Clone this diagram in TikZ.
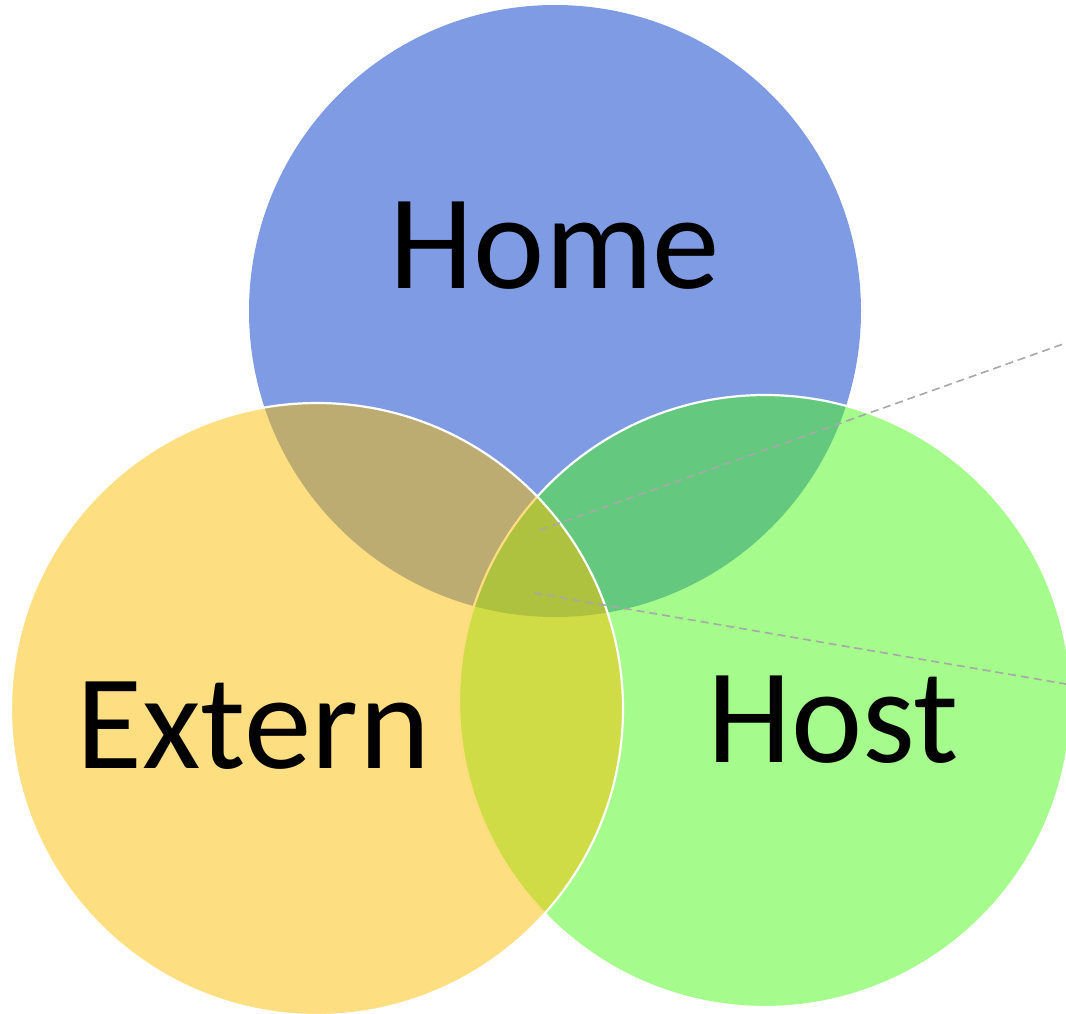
\documentclass[tikz,border=0pt]{standalone}
\usepackage{fontspec}
\setmainfont{Carlito}
\definecolor{homeblue}{RGB}{127,155,228}
\definecolor{hostgreen}{RGB}{75,247,25}
\definecolor{externgold}{RGB}{251,189,1}
\definecolor{guidegray}{RGB}{168,168,168}
\begin{document}
\begin{tikzpicture}[x=1pt,y=-1pt,
  setdisc/.style={circle, inner sep=0pt, outer sep=0pt, minimum size=612pt},
  glassdisc/.style={setdisc, fill opacity=0.5, draw=white, draw opacity=1, line width=2.2pt},
  setlabel/.style={anchor=base, inner sep=0pt, font=\fontsize{135}{160}\selectfont},
  guide/.style={draw=guidegray, line width=1.6pt, dash pattern=on 8pt off 5pt}]
\useasboundingbox (0,0) rectangle (1066,1013);
\clip (0,0) rectangle (1066,1013);

% the three sets, drawn bottom to top
\node[setdisc, fill=homeblue] (home) at (555,311) {};
\node[glassdisc, fill=hostgreen] (host) at (765,701) {};
\node[glassdisc, fill=externgold] (extern) at (317,709) {};

% set names
\node[setlabel] (homelabel) at (555,288) {Home};
\node[setlabel] (externlabel) at (253,768) {Extern};
\node[setlabel] (hostlabel) at (833,762) {Host};

% dashed guide lines out of the common region
\coordinate (guideAstart) at (540,530);
\coordinate (guideAend) at (1066,343);
\coordinate (guideBstart) at (534,593);
\coordinate (guideBend) at (1066,684);
\draw[guide] (guideAstart) -- (guideAend);
\draw[guide] (guideBstart) -- (guideBend);
\end{tikzpicture}
\end{document}
